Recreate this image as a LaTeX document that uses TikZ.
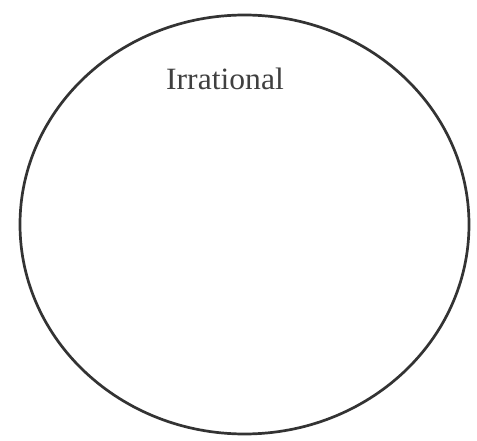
\documentclass[tikz,border=0pt]{standalone}
\usepackage{fontspec}
\setmainfont{Liberation Serif}
\begin{document}
\begin{tikzpicture}[x=1pt,y=1pt,
  setbox/.style={draw=black!80, line width=2.7pt},
  setlabel/.style={font=\fontsize{31}{34}\selectfont, text=black!75, inner sep=0pt}]
\useasboundingbox (0,0) rectangle (477,440);
\fill[white] (0,0) rectangle (477,440);
\draw[setbox] (244.5,215.5) ellipse [x radius=224.5, y radius=209.5];
\node[setlabel, anchor=base, xscale=1.02] (lbl) at (225,350) {Irrational};
\end{tikzpicture}
\end{document}
